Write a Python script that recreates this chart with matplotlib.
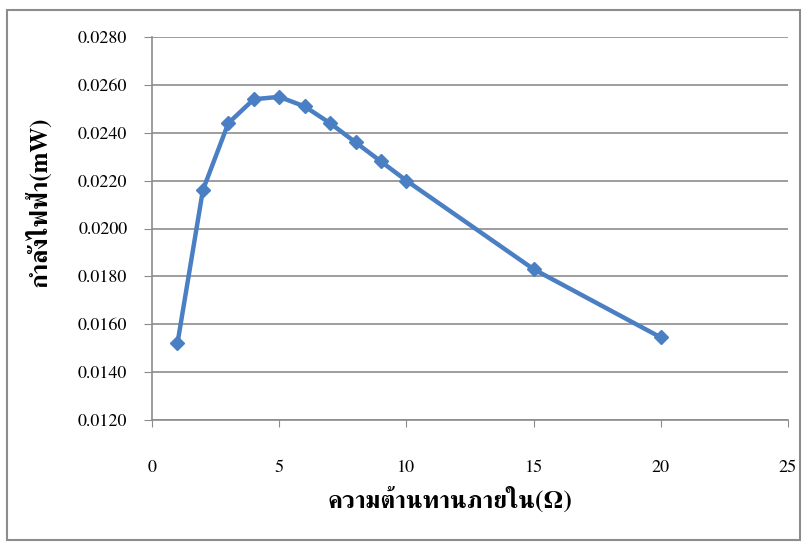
import matplotlib
matplotlib.use("Agg")
import matplotlib.pyplot as plt
from matplotlib.patches import Rectangle

# data
resistance = [1, 2, 3, 4, 5, 6, 7, 8, 9, 10, 15, 20]
power_mw = [0.0152, 0.0216, 0.0244, 0.0254, 0.0255, 0.0251,
            0.0244, 0.0236, 0.0228, 0.0220, 0.0183, 0.01545]

x_ticks = [0, 5, 10, 15, 20, 25]
y_ticks = [0.0120, 0.0140, 0.0160, 0.0180, 0.0200, 0.0220, 0.0240, 0.0260, 0.0280]

x_label = "ความต้านทานภายใน(Ω)"
y_label = "กำลังไฟฟ้า(mW)"

serif = ["FreeSerif", "DejaVu Serif"]
grid_gray = "#8c8c8c"
line_blue = "#4a7fc4"

fig = plt.figure(figsize=(8.05, 5.43), dpi=100)
ax = fig.add_axes([152 / 805, 1 - 420 / 543, 636 / 805, 383 / 543])

ax.plot(resistance, power_mw, color=line_blue, lw=3.2, marker="D",
        markersize=7.5, markerfacecolor=line_blue, markeredgecolor=line_blue,
        solid_joinstyle="round")

ax.set_xlim(0, 25)
ax.set_ylim(0.0120, 0.0280)
ax.set_xticks(x_ticks)
ax.set_yticks(y_ticks)
ax.set_xticklabels([str(t) for t in x_ticks])
ax.set_yticklabels([f"{t:.4f}" for t in y_ticks])
for lab in ax.get_xticklabels() + ax.get_yticklabels():
    lab.set_family(serif)
    lab.set_fontsize(13)
ax.tick_params(axis="x", length=5, color=grid_gray, pad=24)
ax.tick_params(axis="y", length=5.8, color=grid_gray, pad=12)
ax.grid(axis="y", color=grid_gray, lw=1.2)
ax.set_axisbelow(True)
for side in ["top", "right"]:
    ax.spines[side].set_visible(False)
for side in ["left", "bottom"]:
    ax.spines[side].set_color(grid_gray)
    ax.spines[side].set_linewidth(1.2)

fig.text(450 / 805, 1 - 500 / 543, x_label, family=serif, fontsize=18,
         fontweight="bold", ha="center", va="center")
fig.text(38 / 805, 1 - 202 / 543, y_label, family=serif, fontsize=18,
         fontweight="bold", ha="center", va="center", rotation=90)

# outer chart border
fig.patches.append(Rectangle((7 / 805, 1 - 540 / 543), 793 / 805, 530 / 543,
                             transform=fig.transFigure, fill=False,
                             edgecolor=grid_gray, lw=1.5))

fig.savefig("out.png", dpi=100)
